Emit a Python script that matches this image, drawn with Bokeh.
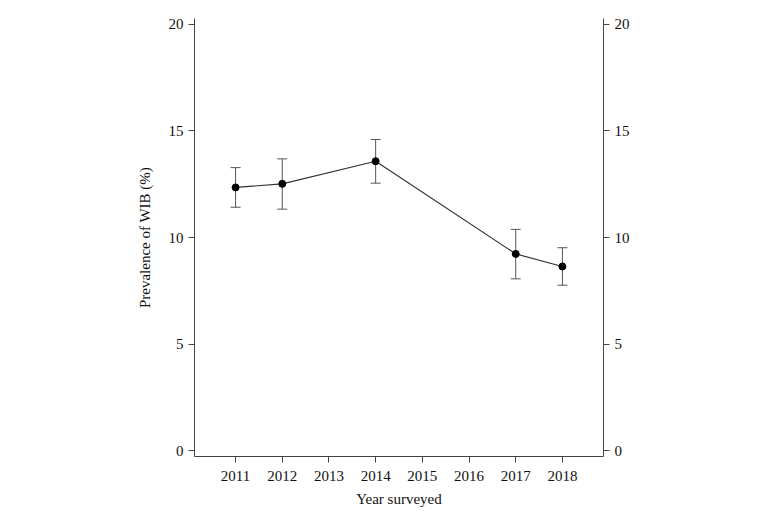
from bokeh.plotting import figure
from bokeh.models import LinearAxis, Range1d, Whisker, ColumnDataSource, FixedTicker
from bokeh.embed import file_html
from bokeh.resources import INLINE

years = [2011, 2012, 2014, 2017, 2018]
prevalence = [12.35, 12.52, 13.58, 9.23, 8.64]
upper = [13.28, 13.69, 14.60, 10.38, 9.52]
lower = [11.42, 11.33, 12.55, 8.06, 7.76]
x_ticks = [2011, 2012, 2013, 2014, 2015, 2016, 2017, 2018]
y_ticks = [0, 5, 10, 15, 20]

FONT = "Liberation Serif"

src = ColumnDataSource(dict(x=years, y=prevalence, upper=upper, lower=lower))

p = figure(width=775, height=514, output_backend="svg", toolbar_location=None,
           x_range=Range1d(2010.12, 2018.88), y_range=Range1d(-0.28, 20.28),
           min_border_left=194, min_border_right=172, min_border_top=18, min_border_bottom=58)
p.outline_line_color = None
p.grid.visible = False
p.background_fill_color = "white"

w = Whisker(source=src, base="x", upper="upper", lower="lower",
            line_color="#555555", line_width=1)
w.upper_head.size = 10
w.lower_head.size = 10
w.upper_head.line_color = "#555555"
w.lower_head.line_color = "#555555"
p.add_layout(w)

p.line("x", "y", source=src, line_color="#333333", line_width=1.2)
p.scatter("x", "y", source=src, size=7, color="black")

def style(ax):
    ax.major_label_text_font = FONT
    ax.major_label_text_font_size = "15px"
    ax.major_label_text_color = "#111111"
    ax.axis_label_text_font = FONT
    ax.axis_label_text_font_size = "15px"
    ax.axis_label_text_font_style = "normal"
    ax.axis_label_text_color = "#111111"
    ax.axis_line_color = "#444444"
    ax.major_tick_line_color = "#444444"
    ax.major_tick_out = 6
    ax.major_tick_in = 0
    ax.minor_tick_line_color = None

p.xaxis.ticker = FixedTicker(ticks=x_ticks)
p.xaxis.axis_label = "Year surveyed"
p.yaxis.ticker = FixedTicker(ticks=y_ticks)
p.yaxis.axis_label = "Prevalence of WIB (%)"
style(p.xaxis[0])
style(p.yaxis[0])
p.xaxis.major_label_standoff = 8
p.xaxis.axis_label_standoff = 7
p.yaxis.axis_label_standoff = 13

right = LinearAxis(ticker=FixedTicker(ticks=y_ticks))
style(right)
p.add_layout(right, "right")

open("out.html", "w").write(file_html(p, INLINE))
